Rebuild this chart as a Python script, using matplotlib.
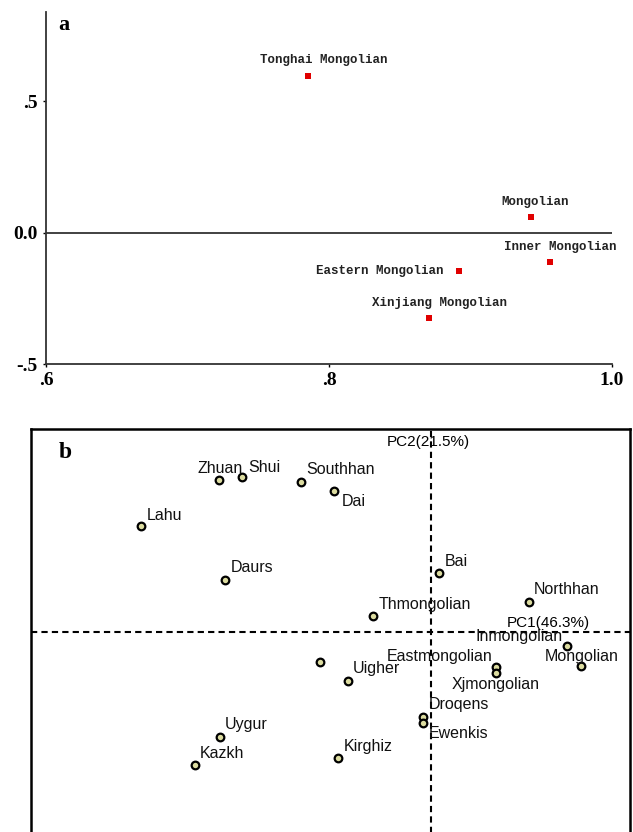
import matplotlib.pyplot as plt

# panel a: red squares
a_names = ['Tonghai Mongolian', 'Mongolian', 'Inner Mongolian',
           'Eastern Mongolian', 'Xinjiang Mongolian']
a_x = [0.785, 0.943, 0.956, 0.892, 0.871]
a_y = [0.598, 0.060, -0.110, -0.145, -0.325]

# panel b: PC1 / PC2 scores
b_names = ['Zhuan', 'Shui', 'Southhan', 'Dai', 'Lahu', 'Daurs', 'Bai',
           'Northhan', 'Thmongolian', 'Inmongolian', 'Mongolian', '',
           'Uigher', 'Eastmongolian', 'Xjmongolian', 'Droqens', 'Ewenkis',
           'Uygur', 'Kazkh', 'Kirghiz']
pc1 = [-2.12, -1.89, -1.30, -0.97, -2.90, -2.06, 0.08, 0.98, -0.58, 1.36,
       1.50, -1.11, -0.83, 0.65, 0.65, -0.08, -0.08, -2.11, -2.36, -0.93]
pc2 = [1.52, 1.55, 1.50, 1.41, 1.06, 0.52, 0.59, 0.30, 0.16, -0.14,
       -0.34, -0.30, -0.49, -0.35, -0.41, -0.85, -0.91, -1.05, -1.33, -1.26]

# label placement (offset pixels, alignment)
a_off = [(-48, 16, 'left', 'center'), (4, 15, 'center', 'center'),
         (-46, 15, 'left', 'center'), (-16, 0, 'right', 'center'),
         (-57, 15, 'left', 'center')]
b_off = [(-21, 11, 'left'), (6, 9, 'left'), (5, 12, 'left'), (8, -11, 'left'),
         (6, 11, 'left'), (6, 12, 'left'), (6, 11, 'left'), (5, 12, 'left'),
         (6, 12, 'left'), (-4, 10, 'right'), (1, 10, 'center'), (0, 0, 'left'),
         (5, 12, 'left'), (-4, 10, 'right'), (0, -12, 'center'), (6, 12, 'left'),
         (6, -11, 'left'), (5, 13, 'left'), (5, 12, 'left'), (6, 11, 'left')]

fig = plt.figure(figsize=(6.33, 8.32), dpi=100)

# ---- panel a ----
ax1 = fig.add_axes([46/633, 1-364/832, (612-46)/633, (364-12)/832])
ax1.plot(a_x, a_y, 's', color='#e00000', markersize=4.5, markeredgewidth=0)
ax1.axhline(0, color='#333333', lw=1.3)
for n, x, y, (dx, dy, ha, va) in zip(a_names, a_x, a_y, a_off):
    ax1.annotate(n, (x, y), xytext=(dx, dy), textcoords='offset pixels',
                 ha=ha, va=va, family='Liberation Mono', fontsize=9,
                 fontweight='bold', color='#222222')
ax1.set_xlim(0.6, 1.0)
ax1.set_ylim(-0.5, 0.84)
ax1.set_xticks([0.6, 0.8, 1.0])
ax1.set_xticklabels(['.6', '.8', '1.0'])
ax1.set_yticks([-0.5, 0.5, 0.0])
ax1.set_yticklabels(['-.5', '.5', '0.0'])
for s in ['top', 'right']:
    ax1.spines[s].set_visible(False)
for s in ['left', 'bottom']:
    ax1.spines[s].set_linewidth(1.3)
    ax1.spines[s].set_color('#333333')
ax1.tick_params(length=2, width=1, pad=4, labelsize=14)
for t in ax1.get_xticklabels() + ax1.get_yticklabels():
    t.set_family('Liberation Serif')
    t.set_fontweight('bold')
ax1.text(58/633, 1-25/832, 'a', transform=fig.transFigure, fontsize=16,
         fontweight='bold', family='Liberation Serif', va='center')

# ---- panel b ----
ax2 = fig.add_axes([31/633, -17/832, (630-31)/633, (849-429)/832])
ax2.axhline(0, color='black', lw=1.5, ls=(0, (3, 2)))
ax2.axvline(0, color='black', lw=1.5, ls=(0, (3, 2)))
ax2.plot(pc1, pc2, 'o', markersize=5.5, markerfacecolor='#dcdca0',
         markeredgecolor='black', markeredgewidth=1.6)
for n, x, y, (dx, dy, ha) in zip(b_names, pc1, pc2, b_off):
    if n:
        ax2.annotate(n, (x, y), xytext=(dx, dy), textcoords='offset pixels',
                     ha=ha, va='center', family='Liberation Sans',
                     fontsize=11.5, color='#111111')
ax2.set_xlim(-4.0, 1.99)
ax2.set_ylim(-2.17, 2.03)
ax2.set_xticks([])
ax2.set_yticks([])
for s in ax2.spines.values():
    s.set_linewidth(1.8)
ax2.text(387/633, 1-442/832, 'PC2(21.5%)', transform=fig.transFigure,
         family='Liberation Sans', fontsize=11, va='center')
ax2.text(507/633, 1-623/832, 'PC1(46.3%)', transform=fig.transFigure,
         family='Liberation Sans', fontsize=11, va='center')
ax2.text(59/633, 1-453/832, 'b', transform=fig.transFigure, fontsize=17,
         fontweight='bold', family='Liberation Serif', va='center')

fig.savefig('out.png', dpi=100)
